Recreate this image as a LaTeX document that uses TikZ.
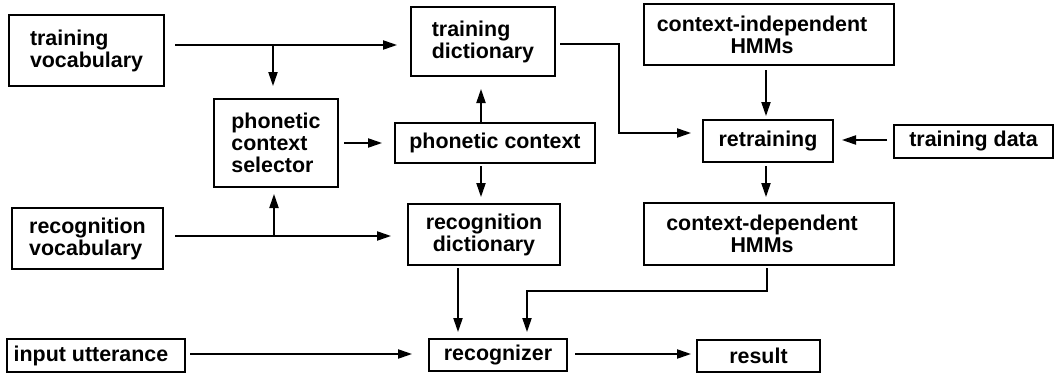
\documentclass[tikz,border=0pt]{standalone}
\usepackage{fontspec}
\setmainfont{Liberation Sans}
\usetikzlibrary{arrows.meta}
\begin{document}
\begin{tikzpicture}[x=0.5pt,y=-0.5pt,
  txt/.style={inner sep=0pt,font=\fontsize{10.7}{11}\selectfont\bfseries,align=center},
  box/.style={txt,draw,line width=1pt},
  arr/.style={line width=0.75pt,-{Triangle[length=7pt,width=4.6pt]}},
  ln/.style={line width=0.75pt}]
\useasboundingbox (0,0) rectangle (1055,375);

% boxes
\node[box,align=left,minimum width=77.5pt,minimum height=35.5pt] (tv) at (86.5,50.5) {training\\vocabulary};
\node[box,align=left,minimum width=72pt,minimum height=34.5pt] (td) at (483,41.5) {training\\dictionary};
\node[box,minimum width=125pt,minimum height=30.5pt] (ci) at (769,34.5) {};
\node[txt] (cit) at ([xshift=-3.5pt]ci.center) {context-independent\\HMMs};
\node[box,align=left,minimum width=62pt,minimum height=44pt] (pcs) at (276,143) {phonetic\\context\\selector};
\node[box,minimum width=100pt,minimum height=20pt] (pc) at (495,143) {phonetic context};
\node[box,minimum width=65pt,minimum height=21pt] (rt) at (768,141) {retraining};
\node[box,minimum width=79.5pt,minimum height=16.5pt] (tdata) at (973.5,141.5) {training data};
\node[box,align=left,minimum width=75.5pt,minimum height=30.5pt] (rv) at (87.5,238.5) {recognition\\vocabulary};
\node[box,minimum width=76pt,minimum height=30.5pt] (rd) at (484,234.5) {recognition\\dictionary};
\node[box,minimum width=125pt,minimum height=31pt] (cd) at (769,234) {};
\node[txt] (cdt) at ([xshift=-3.5pt]cd.center) {context-dependent\\HMMs};
\node[box,minimum width=89pt,minimum height=16.5pt] (iu) at (96,355.5) {};
\node[txt] (iut) at ([xshift=-2.5pt]iu.center) {input utterance};
\node[box,minimum width=69pt,minimum height=16pt] (rec) at (498,355) {recognizer};
\node[box,minimum width=61.5pt,minimum height=16pt] (res) at (758.5,356) {result};

% routing points
\coordinate (ya) at (0,45);
\coordinate (jt) at (273,45);
\coordinate (xp) at (481,0);
\coordinate (yb) at (0,44);
\coordinate (k1) at (619,44);
\coordinate (k2) at (619,133);
\coordinate (xr) at (766,0);
\coordinate (yr) at (0,140);
\coordinate (yv) at (0,236);
\coordinate (jv) at (274,236);
\coordinate (yi) at (0,354);
\coordinate (xd) at (458,0);
\coordinate (m1) at (767,291);
\coordinate (m2) at (527,291);

% connectors
\draw[arr,shorten <=5pt,shorten >=6.5pt] (tv.east |- ya) -- (td.west |- ya);
\draw[arr,shorten >=6pt] (jt) -- (pcs.north -| jt);
\draw[arr,shorten <=2.5pt,shorten >=6pt] (pcs.east) -- (pc.west);
\draw[arr,shorten >=6pt] (pc.north -| xp) -- (td.south -| xp);
\draw[arr,shorten <=1pt,shorten >=3pt] (pc.south -| xp) -- (rd.north -| xp);
\draw[arr,shorten <=2pt,shorten >=5.5pt] (td.east |- yb) -- (k1) -- (k2) -- (rt.west |- k2);
\draw[arr,shorten <=2pt,shorten >=1.5pt] (ci.south -| xr) -- (rt.north -| xr);
\draw[arr,shorten <=3pt,shorten >=4pt] (tdata.west |- yr) -- (rt.east |- yr);
\draw[arr,shorten <=1.5pt,shorten >=2.5pt] (rt.south -| xr) -- (cd.north -| xr);
\draw[arr,shorten <=5.5pt,shorten >=8pt] (rv.east |- yv) -- (rd.west |- yv);
\draw[arr,shorten >=3pt] (jv) -- (pcs.south -| jv);
\draw[arr,shorten <=2pt,shorten >=8pt] (iu.east |- yi) -- (rec.west |- yi);
\draw[arr,shorten <=1pt,shorten >=3pt] (rd.south -| xd) -- (rec.north -| xd);
\draw[arr,shorten <=1pt,shorten >=3pt] (cd.south -| m1) -- (m1) -- (m2) -- (rec.north -| m2);
\draw[arr,shorten <=3.5pt,shorten >=2.5pt] (rec.east |- yi) -- (res.west |- yi);
\end{tikzpicture}
\end{document}
